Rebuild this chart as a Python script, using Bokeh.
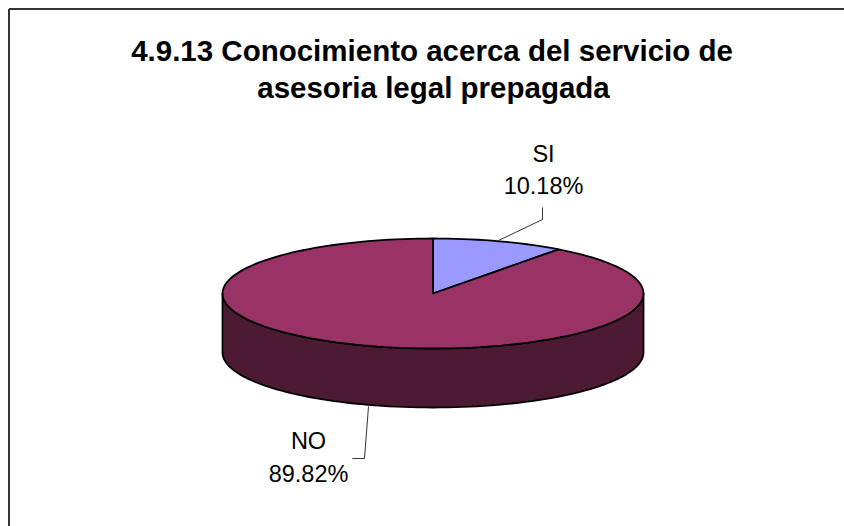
import math
from bokeh.plotting import figure
from bokeh.models import Range1d
from bokeh.core.properties import value
from bokeh.embed import file_html
from bokeh.resources import INLINE

# Data
categories = ["SI", "NO"]
percents = [10.18, 89.82]
percent_labels = ["10.18%", "89.82%"]
title_lines = ["4.9.13 Conocimiento acerca del servicio de", "asesoria legal prepagada"]

colors_top = ["#9999FF", "#993366"]
color_side = "#4C1A33"

W, H = 844, 526
FRAME = 8.5
cx, cy, rx, ry, depth = 432.5, 293, 210.5, 55, 59

p = figure(width=W, height=H, output_backend="svg", toolbar_location=None,
           x_range=Range1d(0, W), y_range=Range1d(H, 0),
           min_border=0, outline_line_color=None, background_fill_color="white",
           border_fill_color="white")
p.xaxis.visible = False
p.yaxis.visible = False
p.grid.visible = False

def pt(deg, dy=0):
    a = math.radians(deg)
    return cx + rx * math.sin(a), cy - ry * math.cos(a) + dy

# Frame (open on the right and bottom, as it runs off the page)
p.line([FRAME, FRAME], [H, FRAME], line_color="#333333", line_width=2)
p.line([FRAME, W], [FRAME, FRAME], line_color="#333333", line_width=2)

# Side wall: front half of the rim
front = list(range(90, 271, 2))
sx = [pt(d)[0] for d in front] + [pt(d, depth)[0] for d in reversed(front)]
sy = [pt(d)[1] for d in front] + [pt(d, depth)[1] for d in reversed(front)]
p.patch(sx, sy, fill_color=color_side, line_color="black", line_width=1.8)

# Top slices, clockwise from 12 o'clock
start = 0.0
total = sum(percents)
for pct, col in zip(percents, colors_top):
    end = start + 360.0 * pct / total
    n = max(4, int((end - start) / 2))
    ds = [start + (end - start) * i / n for i in range(n + 1)]
    xs = [cx] + [pt(d)[0] for d in ds]
    ys = [cy] + [pt(d)[1] for d in ds]
    p.patch(xs, ys, fill_color=col, line_color="black", line_width=1.8)
    start = end

# Leader lines
p.line([542, 542, 498], [207, 219, 240], line_color="black", line_width=0.8)
p.line([368, 364, 352], [406, 458, 458], line_color="black", line_width=0.8)

font = value("Liberation Sans")
# Title
p.text([431.5, 433], [50, 87], text=title_lines, text_font=font, text_font_size="29.5px",
       text_font_style="bold", text_align="center", text_baseline="middle", text_color="black")
# Labels
p.text([543, 543], [153, 185], text=[categories[0], percent_labels[0]], text_font=font,
       text_font_size="23.5px", text_align="center", text_baseline="middle", text_color="black")
p.text([308, 308], [440, 473], text=[categories[1], percent_labels[1]], text_font=font,
       text_font_size="23.5px", text_align="center", text_baseline="middle", text_color="black")

open("out.html", "w").write(file_html(p, INLINE))
